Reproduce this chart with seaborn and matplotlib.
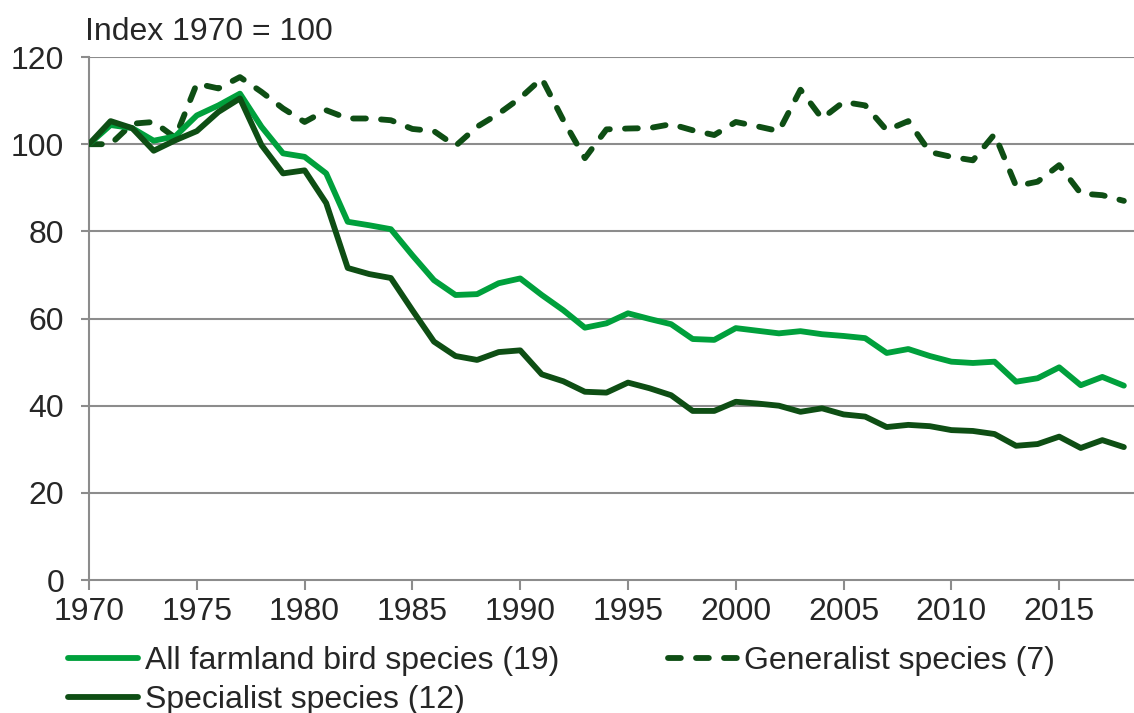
import matplotlib
matplotlib.use('Agg')
import matplotlib.pyplot as plt
import seaborn as sns
import pandas as pd

# data
years = list(range(1970, 2019))
all_farmland = [100, 104.4, 103.7, 100.8, 101.8, 106.6, 108.9, 111.6, 104.0, 97.9,
                97.1, 93.3, 82.2, 81.4, 80.5, 74.5, 68.8, 65.4, 65.6, 68.1,
                69.2, 65.4, 61.9, 57.9, 58.9, 61.2, 59.9, 58.7, 55.3, 55.1,
                57.8, 57.2, 56.6, 57.1, 56.4, 56.0, 55.5, 52.1, 53.0, 51.4,
                50.1, 49.8, 50.1, 45.5, 46.3, 48.8, 44.7, 46.6, 44.6]
specialist = [100, 105.3, 103.7, 98.5, 100.9, 103.0, 107.4, 110.5, 99.8, 93.3,
              94.0, 86.5, 71.6, 70.2, 69.3, 61.9, 54.7, 51.4, 50.5, 52.3,
              52.7, 47.2, 45.6, 43.2, 43.0, 45.3, 44.0, 42.4, 38.8, 38.8,
              40.9, 40.5, 40.0, 38.6, 39.4, 38.0, 37.5, 35.1, 35.6, 35.3,
              34.4, 34.2, 33.5, 30.8, 31.2, 32.9, 30.3, 32.1, 30.5]
generalist = [100, 100.0, 104.7, 105.1, 101.5, 113.9, 112.8, 115.4, 112.0, 108.2,
              105.1, 107.8, 105.9, 105.9, 105.5, 103.5, 103.0, 99.6, 104.0, 107.0,
              110.6, 115.1, 105.5, 96.8, 103.4, 103.6, 103.7, 104.6, 103.2, 102.1,
              105.1, 104.1, 103.0, 112.5, 105.9, 109.7, 108.9, 103.2, 105.3, 98.2,
              97.1, 96.3, 102.3, 90.4, 91.4, 95.2, 88.7, 88.3, 87.0]

labels = ['All farmland bird species (19)', 'Specialist species (12)',
          'Generalist species (7)']

light_green = '#00A03C'
dark_green = '#0E4E14'
grey = '#8C8C8C'
fs = 23

sns.set_style('white')
plt.rcParams['font.family'] = ['Liberation Sans', 'DejaVu Sans']

fig = plt.figure(figsize=(11.34, 7.13), dpi=100)
ax = fig.add_axes([0.0785, 0.1865, 0.9215, 0.7335])

df = pd.DataFrame({'year': years, 'all': all_farmland,
                   'spec': specialist, 'gen': generalist})

# gridlines first so lines sit on top
for v in range(20, 121, 20):
    ax.axhline(v, color=grey, lw=1.5, zorder=1)

sns.lineplot(data=df, x='year', y='all', ax=ax, color=light_green,
             lw=4.2, label=labels[0], zorder=3)
sns.lineplot(data=df, x='year', y='spec', ax=ax, color=dark_green,
             lw=4.2, label=labels[1], zorder=4)
sns.lineplot(data=df, x='year', y='gen', ax=ax, color=dark_green,
             lw=4.2, label=labels[2], zorder=2)
gen_line = ax.get_lines()[-1]
gen_line.set_dashes((2.2, 2.6))
gen_line.set_dash_capstyle('round')

ax.set_xlim(1970, 2018.47)
ax.set_ylim(0, 120)
ax.set_xlabel('')
ax.set_ylabel('')
ax.set_xticks(range(1970, 2016, 5))
ax.set_yticks(range(0, 121, 20))
ax.tick_params(axis='x', direction='out', length=7, width=1.5, color=grey,
               labelsize=fs, pad=5, bottom=True)
ax.tick_params(axis='y', direction='out', length=6, width=1.5, color=grey,
               labelsize=fs, pad=12, left=True)

for side in ['top', 'right']:
    ax.spines[side].set_visible(False)
ax.spines['left'].set_color(grey)
ax.spines['left'].set_linewidth(1.5)
ax.spines['bottom'].set_color(grey)
ax.spines['bottom'].set_linewidth(1.5)

fig.text(0.075, 0.944, 'Index 1970 = 100', fontsize=fs, va='baseline', ha='left')

handles, labs = ax.get_legend_handles_labels()
ax.get_legend().remove()
fig.legend(handles, labs, loc='upper left', bbox_to_anchor=(0.06, 0.094),
           ncol=2, frameon=False, fontsize=fs, handlelength=2.2,
           handletextpad=0.2, labelspacing=0.28, columnspacing=3.4,
           borderaxespad=0, borderpad=0)

fig.savefig('out.png', dpi=100)
